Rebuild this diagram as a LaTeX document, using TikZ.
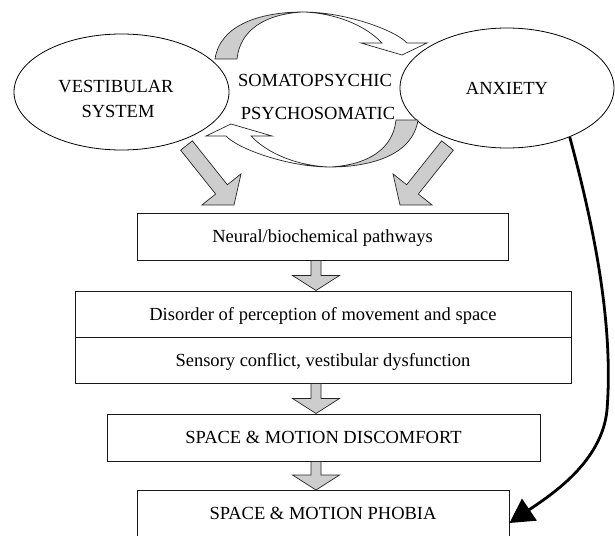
\documentclass[tikz,border=0pt]{standalone}
\usepackage{fontspec}
\setmainfont{Liberation Serif}
\usetikzlibrary{shapes.geometric,calc,arrows.meta}
\definecolor{agray}{RGB}{205,205,205}
\newcommand\somaArrow{%
  \filldraw[blockarrow] (215,59) .. controls (220,25) and (260,12) .. (303,12)
     .. controls (265,14) and (240,30) .. (237,59) -- cycle;
  \filldraw[whitearrow] (303,12) .. controls (345,12) and (395,30) .. (407,43)
     -- (427,43) -- (402,55) -- (361,43) -- (382,43)
     .. controls (365,25) and (335,13) .. (303,12) -- cycle;}
\newcommand\diagBlock{%
  \filldraw[blockarrow] (180.65,150.15) -- (215.65,194.05) -- (202,204.9) -- (234,205)
     -- (241,173.9) -- (227.35,184.75) -- (192.35,140.85) -- cycle;}
\newcommand\downBlock[2]{%
  \coordinate (s) at (axis |- #1.south);
  \coordinate (e) at (axis |- #2.north);
  \filldraw[blockarrow] ($(s)+(-5,0)$) -- ($(e)+(-5,-15)$) -- ($(e)+(-23.5,-15)$) -- (e)
     -- ($(e)+(23.5,-15)$) -- ($(e)+(5,-15)$) -- ($(s)+(5,0)$) -- cycle;}
\begin{document}
\begin{tikzpicture}[x=1pt,y=-1pt,
  txt/.style={font=\fontsize{18.5}{22}\selectfont, inner sep=0pt},
  oval/.style={draw, ellipse, line width=0.8pt, inner sep=0pt, font=\fontsize{18.5}{22}\selectfont},
  box/.style={draw=black!90, line width=1pt, rectangle, inner sep=0pt, minimum height=46pt,
              text height=12.2pt, text depth=0pt, font=\fontsize{18.5}{22}\selectfont},
  blockarrow/.style={fill=agray, draw=black!85, line width=0.7pt, line join=miter},
  whitearrow/.style={fill=white, draw=black!85, line width=0.7pt},
  link/.style={line width=2.8pt, -{Triangle[length=24pt,width=26pt]}}
]
\useasboundingbox (0,0) rectangle (615,535);
\clip (0,0) rectangle (615,535);
\coordinate (axis) at (316,0);

% ellipses
\node[oval, minimum width=215pt, minimum height=116pt] (vest) at (121.5,92) {};
\node[txt, anchor=base] (vt1) at (116,92) {VESTIBULAR};
\node[txt, anchor=base] (vt2) at (118,117.5) {SYSTEM};
\node[oval, minimum width=214pt, minimum height=120pt] (anx) at (507,88) {ANXIETY};

% cycle labels
\node[txt, anchor=base] (somato) at (315,86.5) {SOMATOPSYCHIC};
\node[txt, anchor=base] (psycho) at (318,119.5) {PSYCHOSOMATIC};

% cycle arrows
\somaArrow
\begin{scope}[rotate around={180:(316.5,89.5)}]
  \somaArrow
\end{scope}

% diagonal block arrows
\diagBlock
\begin{scope}[shift={(634,0)}, xscale=-1]
  \diagBlock
\end{scope}

% boxes
\node[box, minimum width=371pt, minimum height=47pt] (neural) at (322.5,236.5) {Neural/biochemical pathways};
\node[box, minimum width=496pt] (dis1) at (323,314) {Disorder of perception of movement and space};
\node[box, minimum width=496pt] (dis2) at (323,360) {Sensory conflict, vestibular dysfunction};
\node[box, minimum width=433pt, minimum height=47pt] (disc) at (323.5,437.5) {SPACE \& MOTION DISCOMFORT};
\node[box, minimum width=372pt] (phobia) at (323,513.5) {SPACE \& MOTION PHOBIA};

% vertical block arrows
\downBlock{neural}{dis1}
\downBlock{dis2}{disc}
\downBlock{disc}{phobia}

% anxiety -> phobia
\draw[link] (anx.-38) .. controls (592,220) and (614,320) .. (607,410)
   .. controls (602,462) and (551,495) .. ($(phobia.east)+(0,9.5)$);
\end{tikzpicture}
\end{document}
